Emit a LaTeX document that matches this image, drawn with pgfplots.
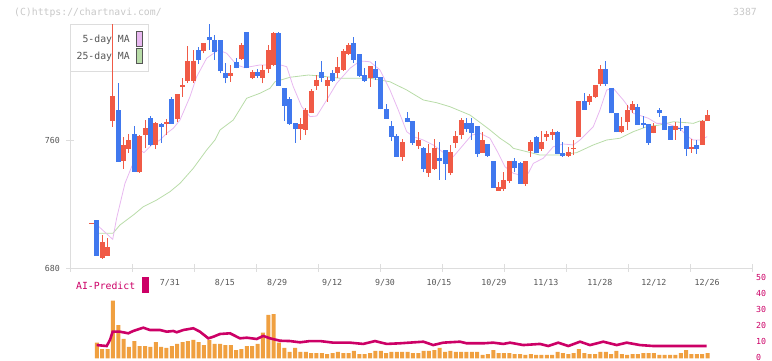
\documentclass[border=0pt]{standalone}
\usepackage{pgfplots}
\pgfplotsset{compat=1.18}
\usepackage{pgfplotstable}
\usepackage{fontspec}
\setmainfont{DejaVu Sans Mono}
\definecolor{cred}{HTML}{F05A46}
\definecolor{cblue}{HTML}{4078EE}
\definecolor{ma5}{HTML}{E8B8F0}
\definecolor{ma25}{HTML}{B8DCA8}
\definecolor{axgray}{HTML}{DDDDDD}
\definecolor{labgray}{HTML}{555555}
\definecolor{cpgray}{HTML}{C8C8C8}
\definecolor{volor}{HTML}{F0A040}
\definecolor{aimag}{HTML}{CC0066}
\newcommand\tickfont{\fontsize{8.3pt}{9pt}\selectfont}
\newcommand\txtfont{\fontsize{9.8pt}{11pt}\selectfont}

\pgfplotstableread{
i O H L C
0 707.6 708.4 707.6 708.4
2 686.4 700.6 685.8 696.3
3 687.5 698.9 687.5 693.1
4 772.1 832.5 768.3 787.5
6 747.1 762.1 742.1 756.9
7 754.4 763.75 752.1 760
9 739.8 763.1 739.4 762.2
10 763.1 772.5 754.8 767.7
12 756.9 771.5 754.6 770.8
14 770 773 763 771
16 773.1 788.75 771.25 788.75
17 793.4 798.75 787.1 794.2
18 797.1 818.75 795.8 809.4
19 797 816 795.6 809.4
21 815.6 820.8 814.2 820.8
26 800 806.9 796.4 802.1
28 810.4 820.8 810 819.4
30 799 803.75 797.9 802.7
32 799 806.9 795.4 803.75
33 804.2 819.4 802.1 816.25
34 806.9 827.7 806 826.7
39 766.9 774 760 770
40 766.25 780.2 763.1 778.75
41 777 791.7 776.7 790.6
42 794 800.6 791.25 797.5
44 794 799.6 784 797.5
46 802.1 812 799 805.8
47 803.75 816.7 803.3 815.6
48 813.75 820.8 813.1 819.4
52 798.6 806 793.3 806
58 749.6 760.6 747.1 758.75
61 756.25 765.2 754.4 760
63 739.6 757.3 737.1 752.1
64 741.7 760.6 741.25 755.2
67 739.6 756.9 738.1 752.5
68 758.3 765.6 755.2 762.5
69 763.1 773.6 760.4 772.5
73 752.1 765.2 752.1 760
76 728.3 734 728.3 730.8
77 729.4 740.2 728.3 735
78 734.4 746.9 733 746.9
81 732.5 746.9 731.25 746.9
82 753.3 760 749.6 758.75
84 754.4 765.6 753.3 758.75
85 761.9 765.6 759.6 763.75
86 763.1 766.9 760 765.2
89 750 755.8 749.6 752.5
90 754.4 760 750.6 755.2
91 762.1 784.4 762.1 784.4
93 784 788.75 781.9 787.5
94 787.1 794.4 786.4 794.4
95 795 806.9 794 804.4
99 764.8 774.2 764.2 768.75
100 771.4 781.9 766.25 778.75
101 778.75 784.4 776.7 782.5
105 764.6 770.4 764.2 768.75
109 766.25 771.4 760 768.75
112 754.4 760.6 752.1 755.8
114 756.9 772.5 756.9 772
115 772 778.75 772 775.6
}\upc

\pgfplotstableread{
i O H L C
1 710 710 687.5 687.5
5 778.75 795.8 746.4 746.4
8 763.75 768.75 740.2 740.2
11 774 775 756 756.9
13 770 770.5 758 768.3
15 785.6 787 770 770
20 816.25 818.3 807.5 810
22 824.6 832.5 816.25 822.2
23 822.5 825.6 810 815.2
24 822.5 822.5 801.7 803.1
25 802.1 808 795.4 798.6
27 809 811 804.8 805.2
29 827.5 827.5 804.8 804.8
31 802.3 804.4 799 800
35 826.7 827.7 793.75 793.75
36 792.3 792.3 771.9 781.25
37 785.4 787.1 769.4 770
38 770.4 770.4 758.3 766.9
43 802.7 809.4 796.4 799
45 802 803.75 796.4 797.1
49 820.8 824.6 808.3 810
50 813.75 813.75 799.6 800
51 800.6 804.8 796.4 796.9
53 804.4 809.4 797.5 799
54 799.2 799.2 779.2 779.2
55 779.2 782.5 773.3 773.3
56 768.75 772 759.6 762.1
57 762.5 763.75 749.6 749.6
59 774 777.7 771 771.4
60 772 772 756.9 758.3
62 755.2 755.8 739.8 741.9
65 748.9 758.6 735 747.1
66 753.75 753.75 735 745
70 770.4 774 765 766.7
71 770.4 774 760 764.6
72 768.75 768.75 749.6 751.25
74 757.5 757.5 749.6 750
75 747.1 747.1 730.2 730.2
79 746.9 748.6 740.2 742.3
80 745.4 746.1 732.5 732.5
83 762.1 762.7 751.7 752.1
87 765.2 765.6 751.25 751.25
88 752.1 758.75 749.6 750
92 784.4 789.2 778.75 778.75
96 804.4 809.4 794 795
97 792.3 792.3 776.7 776.7
98 776.7 776.7 764.8 764.8
102 780.8 782.5 769.4 769.4
103 770.8 775 767.3 769.4
104 770 770 756.9 758.3
106 778.75 779.8 774.6 776.7
107 775 775 766.25 766.25
108 768.75 768.75 760 760
110 767.5 774 765.6 766.7
111 768.75 768.75 750 754.4
113 756.9 760 751.25 754.4
}\dnc

\pgfplotstableread{
i v
1 9.9
2 5.9
3 5.9
4 36.1
5 20.9
6 12.2
7 7.2
8 10.9
9 7.8
10 7.8
11 7.2
12 10.3
13 7.2
14 6.6
15 7.8
16 9.1
17 10.3
18 10.9
19 11.6
20 10.3
21 8.4
22 11.6
23 9.1
24 9.1
25 8.4
26 8.4
27 5.3
28 5.9
29 7.8
30 7.8
31 9.1
32 16.1
33 27.2
34 27.8
35 9.9
36 6.6
37 4.1
38 6.6
39 4.1
40 4.1
41 3.4
42 3.4
43 3.4
44 2.8
45 3.4
46 4.1
47 3.4
48 3.4
49 4.7
50 2.8
51 2.8
52 3.4
53 4.7
54 4.7
55 3.4
56 4.1
57 4.1
58 4.1
59 4.1
60 3.4
61 3.4
62 4.7
63 4.7
64 5.3
65 6.6
66 4.1
67 4.7
68 4.1
69 4.1
70 4.1
71 4.1
72 4.1
73 2.2
74 2.8
75 5.3
76 3.4
77 3.4
78 3.4
79 2.8
80 2.8
81 2.2
82 2.8
83 2.2
84 2.2
85 2.2
86 2.2
87 4.1
88 3.4
89 2.8
90 3.4
91 5.9
92 3.4
93 2.8
94 2.8
95 4.1
96 4.1
97 2.8
98 4.7
99 2.8
100 2.2
101 2.8
102 2.8
103 3.4
104 3.4
105 3.4
106 2.2
107 2.2
108 2.2
109 2.2
110 3.4
111 5.3
112 2.8
113 2.8
114 2.8
115 3.4
}\vol

\begin{document}
\begin{tikzpicture}
\useasboundingbox (0pt,0pt) rectangle (772pt,361pt);
\node[anchor=west, inner sep=0pt, text=cpgray, font=\txtfont] at (14pt,348.5pt) {(C)https://chartnavi.com/};
\node[anchor=east, inner sep=0pt, text=cpgray, font=\txtfont] at (757pt,349.5pt) {3387};
\draw[axgray, line width=0.8pt, fill=white] (70pt,337pt) rectangle (148pt,290pt);
\node[anchor=east, inner sep=0pt, text=labgray, font=\txtfont] at (130pt,321pt) {5-day MA};
\node[anchor=east, inner sep=0pt, text=labgray, font=\txtfont] at (130pt,304pt) {25-day MA};
\draw[labgray, line width=0.8pt, fill=ma5] (136pt,330pt) rectangle (142.7pt,314.3pt);
\draw[labgray, line width=0.8pt, fill=ma25] (136pt,312.7pt) rectangle (142.7pt,297.7pt);
\node[anchor=west, inner sep=0pt, text=aimag, font=\txtfont] at (76pt,75pt) {AI-Predict};
\fill[aimag] (142pt,84pt) rectangle (149pt,68pt);

\begin{axis}[
  at={(70pt,93pt)}, anchor=south west,
  scale only axis, width=682pt, height=244pt,
  xmin=-4.013, xmax=123.30, ymin=680, ymax=832.5,
  axis x line=bottom, axis y line=left,
  axis line style={draw=axgray, line width=0.8pt, -},
  tick align=center, major tick length=8pt,
  tick style={draw=axgray, line width=0.8pt},
  xtick={-4.013,7.561,19.135,30.709,42.283,53.857,65.431,77.005,88.579,100.153,111.727,123.301},
  xticklabels={},
  extra x ticks={14.65,24.92,34.63,44.9,54.79,64.87,75.13,84.84,94.92,105.0,114.9},
  extra x tick labels={7/31,8/15,8/29,9/12,9/30,10/15,10/29,11/13,11/28,12/12,12/26},
  extra x tick style={major tick length=0pt},
  xticklabel style={font=\tickfont, text=labgray, inner sep=0pt, anchor=north, yshift=-11pt},
  ytick={680,760},
  yticklabel style={font=\tickfont, text=labgray, inner sep=0pt, anchor=east, xshift=-6pt},
  /pgf/number format/assume math mode=true,
  clip=false,
]
\addplot[color=ma25, line width=0.8pt, mark=none] coordinates {
(1.40,701.7)(4.01,701.7)(5.32,706.9)(7.80,713.1)(9.67,718.3)(12.17,722.5)(14.65,727.7)(16.52,732.9)(19.00,742.3)(21.50,753.75)(23.05,760)(23.99,766.25)(26.47,772.5)(28.97,786.1)(31.45,789.2)(33.32,792.3)(34.25,796.4)(37.05,799.2)(40.47,800.6)(42.65,800)(46.39,798.6)(51.99,798.6)(55.72,796.4)(58.84,791.25)(61.94,785)(64.44,783.3)(66.92,780.8)(70.66,775.6)(73.14,769.4)(74.39,766.25)(76.26,761.1)(78.12,756.9)(78.74,754.8)(81.24,752.7)(83.72,750.6)(87.46,750.6)(90.57,752.1)(93.67,756.9)(96.17,760)(98.66,761.1)(101.14,765.2)(103.64,768.3)(106.12,769.4)(108.61,771.4)(111.11,770.8)(112.34,770.4)(113.59,771.9)(114.52,771.9)
};
\addplot[color=ma5, line width=0.8pt, mark=none] coordinates {
(1.40,705.8)(3.96,697.9)(4.70,711.25)(6.25,732.9)(7.50,743.3)(9.05,753.75)(9.80,752.1)(11.24,756.9)(12.79,760)(14.04,764.2)(15.27,767.3)(16.52,772.5)(18.39,787.1)(19.64,799.6)(21.50,811.1)(23.67,816.25)(25.24,814.2)(27.10,806.9)(28.65,805.2)(29.59,805.8)(31.45,806.9)(32.70,806.9)(34.25,807.9)(36.44,805.8)(37.67,793.3)(39.24,780.8)(40.79,774.6)(42.04,775)(43.91,785)(45.77,795.4)(48.25,804.8)(50.12,809.4)(51.99,808.9)(53.85,803.75)(55.72,791.25)(57.27,778.75)(58.84,765.2)(60.07,762.1)(61.94,760)(63.80,756.9)(65.06,753.75)(66.31,750.6)(67.54,749.6)(69.40,756.9)(70.97,763.1)(72.52,764.2)(74.39,761.1)(75.94,751.7)(77.19,743.3)(78.74,739.2)(79.99,738.1)(81.54,739.2)(82.47,745.4)(84.34,748.6)(86.20,755.8)(88.07,757.5)(89.94,756.9)(91.19,760)(93.06,766.25)(93.67,768.3)(94.92,778.75)(96.17,791.25)(97.41,792.3)(99.27,785)(101.14,776.7)(103.94,773.6)(105.51,770.4)(107.37,770.4)(109.86,767.3)(111.11,762.5)(112.34,760)(113.59,760)(114.95,762.1)
};
% up candles (red)
\addplot[draw=none, mark=none, forget plot,
  error bars/.cd, y dir=plus, y explicit, error mark=none,
  error bar style={draw=cred, line width=1pt}]
  table[x=i, y=L, y error plus expr=\thisrow{H}-\thisrow{L}] {\upc};
\addplot[draw=none, mark=none, forget plot,
  error bars/.cd, y dir=plus, y explicit, error mark=none,
  error bar style={draw=cred, line width=5pt}]
  table[x=i, y=O, y error plus expr=\thisrow{C}-\thisrow{O}] {\upc};
% down candles (blue)
\addplot[draw=none, mark=none, forget plot,
  error bars/.cd, y dir=plus, y explicit, error mark=none,
  error bar style={draw=cblue, line width=1pt}]
  table[x=i, y=L, y error plus expr=\thisrow{H}-\thisrow{L}] {\dnc};
\addplot[draw=none, mark=none, forget plot,
  error bars/.cd, y dir=plus, y explicit, error mark=none,
  error bar style={draw=cblue, line width=5pt}]
  table[x=i, y=C, y error plus expr=\thisrow{O}-\thisrow{C}] {\dnc};
\end{axis}

\begin{axis}[
  at={(70pt,2.5pt)}, anchor=south west,
  scale only axis, width=682pt, height=80pt,
  xmin=-4.013, xmax=123.30, ymin=0, ymax=50,
  axis x line=none, axis y line=right,
  axis line style={draw=none},
  major tick length=0pt,
  ytick={0,10,20,30,40,50},
  yticklabel style={font=\tickfont, text=aimag, inner sep=0pt, anchor=west, xshift=4pt, yshift=1.5pt},
  /pgf/number format/assume math mode=true,
  clip=false,
]
\addplot[ybar, bar width=4pt, fill=volor, draw=none] table[x=i, y=v] {\vol};
\addplot[color=aimag, line width=2.6pt, mark=none] coordinates {
(0.97,8.4)(2.84,7.8)(3.45,11.6)(3.96,16.75)(5.32,16.75)(6.87,15.75)(7.80,17.2)(9.67,19.25)(10.92,17.8)(12.79,17.8)(14.04,16.75)(15.27,17.2)(15.90,16.4)(17.14,17.8)(19.00,18.9)(20.25,16.75)(21.80,12.6)(22.74,13.6)(23.99,15.3)(25.85,15.75)(27.72,12.6)(28.97,13)(30.84,12.2)(32.07,14.1)(33.32,12.6)(35.19,11.1)(37.05,10.9)(38.92,10.1)(40.79,10.9)(42.65,10.9)(45.14,9.9)(48.25,9.9)(50.74,9.1)(52.92,10.9)(55.10,9.1)(57.59,9.5)(61.94,10.5)(63.80,8.4)(65.67,9.9)(68.79,10.5)(70.04,9.5)(73.14,9.5)(75.00,9.9)(76.87,9.1)(78.12,9.9)(80.60,8.4)(83.72,9.1)(85.27,7.8)(87.14,9.9)(89.01,7.8)(91.19,10.5)(93.06,8.4)(95.54,10.5)(98.04,8.4)(99.91,9.9)(102.39,8.4)(104.87,7.8)(114.84,7.8)
};
\end{axis}
\end{tikzpicture}
\end{document}
